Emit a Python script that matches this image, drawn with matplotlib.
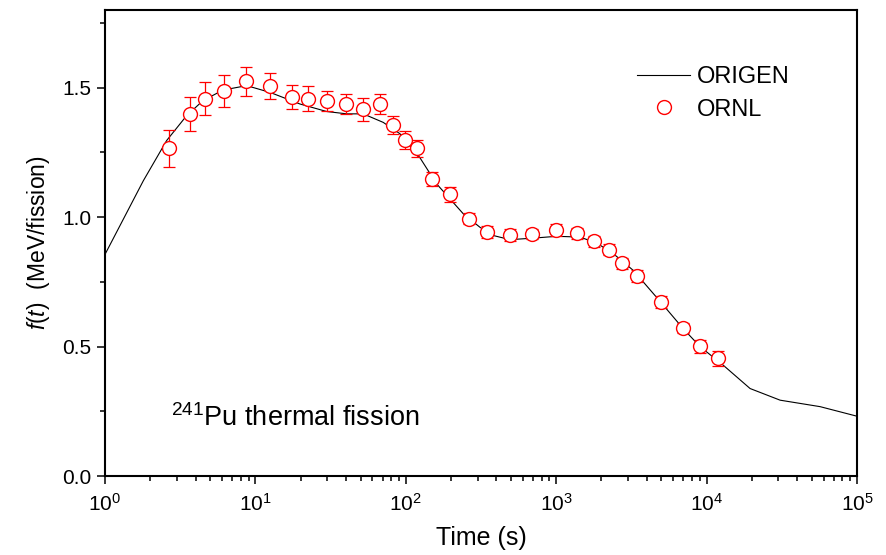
import matplotlib
matplotlib.use("Agg")
import matplotlib.pyplot as plt
from matplotlib.ticker import MultipleLocator, FormatStrFormatter, LogLocator

plt.rcParams["font.family"] = ["Liberation Sans", "DejaVu Sans"]
plt.rcParams["mathtext.fontset"] = "custom"
plt.rcParams["mathtext.rm"] = "Liberation Sans"
plt.rcParams["mathtext.it"] = "Liberation Sans:italic"

# ORIGEN calculation (line)
origen_t = [1.0, 1.8, 2.57, 3.49, 4.48, 6.09, 8.75, 12.5, 19.8, 29.8, 40.5,
            52.1, 70.8, 91.5, 124, 160, 241, 311, 382, 493, 705, 1008, 1439,
            1858, 2397, 3258, 4898, 6970, 9036, 12900, 19450, 30800, 56800,
            100000]
origen_f = [0.856, 1.141, 1.296, 1.392, 1.45, 1.491, 1.508, 1.482, 1.437,
            1.408, 1.399, 1.399, 1.366, 1.322, 1.23, 1.129, 1.013, 0.961,
            0.929, 0.913, 0.919, 0.926, 0.923, 0.900, 0.859, 0.794, 0.675,
            0.57, 0.50, 0.428, 0.338, 0.293, 0.268, 0.231]

# ORNL measurement (points with error bars)
ornl_t = [2.68, 3.66, 4.64, 6.15, 8.62, 12.6, 17.5, 22.5, 29.9, 39.8, 52.1,
          67.4, 81.9, 98.9, 119, 149, 198, 262, 347, 493, 691, 993, 1381,
          1783, 2233, 2738, 3427, 4951, 6933, 8990, 11900]
ornl_f = [1.266, 1.399, 1.457, 1.486, 1.524, 1.505, 1.465, 1.457, 1.449,
          1.437, 1.416, 1.437, 1.357, 1.298, 1.266, 1.147, 1.088, 0.994,
          0.942, 0.931, 0.934, 0.951, 0.938, 0.906, 0.874, 0.821, 0.772,
          0.672, 0.572, 0.501, 0.455]
ornl_err = [0.072, 0.066, 0.064, 0.062, 0.056, 0.05, 0.047, 0.048, 0.04,
            0.039, 0.044, 0.04, 0.035, 0.034, 0.033, 0.028, 0.028, 0.022,
            0.022, 0.022, 0.02, 0.022, 0.021, 0.021, 0.021, 0.022, 0.022,
            0.022, 0.02, 0.025, 0.029]

fig = plt.figure(figsize=(8.86, 5.55), dpi=100)
ax = fig.add_axes([0.1185, 0.1423, 0.8488, 0.8396])

ax.plot(origen_t, origen_f, color="black", lw=0.8, label="ORIGEN", zorder=2)
ax.errorbar(ornl_t, ornl_f, yerr=ornl_err, fmt="none", ecolor="red",
            elinewidth=0.9, capsize=4.3, capthick=0.9, zorder=3)
ax.plot(ornl_t, ornl_f, "o", ms=10, mfc="white", mec="red", mew=1.0,
        label="ORNL", zorder=4)

ax.set_xscale("log")
ax.set_xlim(1, 1e5)
ax.set_ylim(0, 1.8)
ax.xaxis.set_major_locator(LogLocator(base=10, numticks=10))
ax.xaxis.set_minor_locator(LogLocator(base=10, subs=range(2, 10), numticks=20))
ax.yaxis.set_major_locator(MultipleLocator(0.5))
ax.yaxis.set_minor_locator(MultipleLocator(0.25))
ax.yaxis.set_major_formatter(FormatStrFormatter("%.1f"))

for s in ax.spines.values():
    s.set_linewidth(1.5)
ax.tick_params(which="both", direction="out", top=False, right=False,
               width=1.1, labelsize=15, pad=4)
ax.tick_params(axis="x", pad=6)
ax.tick_params(which="major", length=6)
ax.tick_params(which="minor", length=3.6)

ax.set_xlabel("Time (s)", fontsize=18, labelpad=8)
ax.set_ylabel("$f(t)$  (MeV/fission)", fontsize=16.5, labelpad=7)

ax.text(0.088, 0.108, "$^{241}$Pu thermal fission", transform=ax.transAxes,
        fontsize=19.5)

ax.legend(loc="upper left", bbox_to_anchor=(0.7074, 0.879), frameon=False,
          fontsize=17, borderpad=0, handlelength=2.25, handletextpad=0.3,
          labelspacing=0.43, borderaxespad=0)

fig.savefig("out.png", dpi=100)
